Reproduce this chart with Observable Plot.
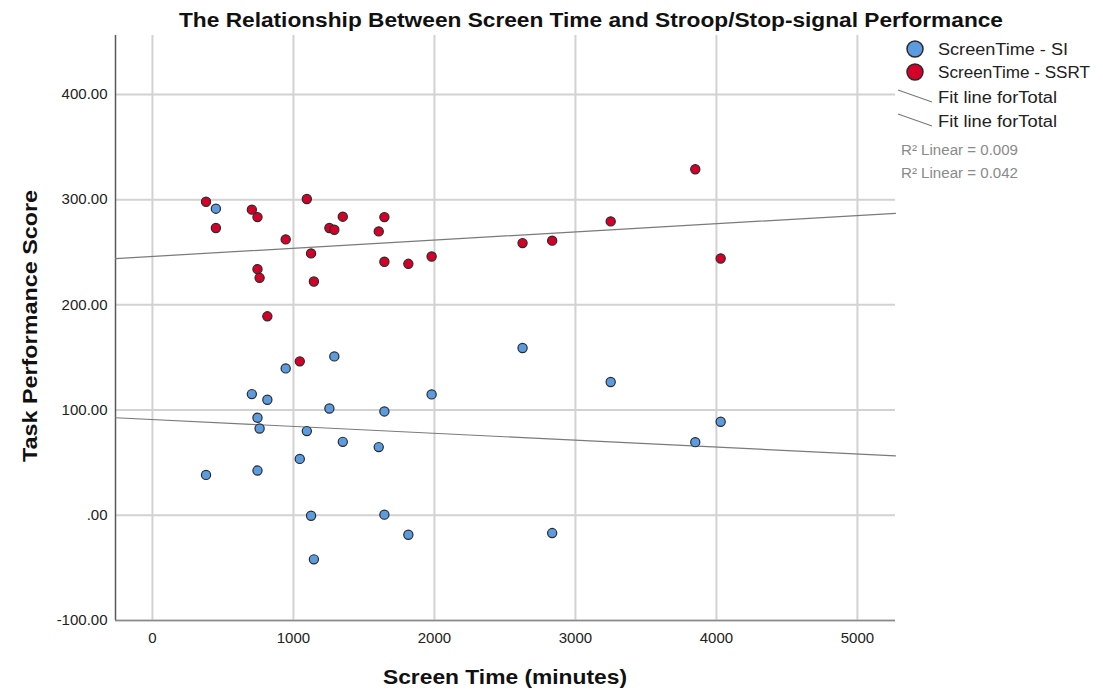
<!DOCTYPE html>
<html>
<head>
<meta charset="utf-8">
<script src="https://cdn.jsdelivr.net/npm/d3@7"></script>
<script src="https://cdn.jsdelivr.net/npm/@observablehq/plot@0.6"></script>
<style>
  body { margin: 0; background: #fff; }
  #wrap { position: relative; width: 1103px; height: 693px; font-family: "Liberation Sans", Arial, sans-serif; }
  #wrap svg { position: absolute; left: 0; top: 0; }
</style>
</head>
<body>
<div id="wrap"></div>
<script>
// ---- data ----
const screenTime = [380, 450, 705, 745, 745, 760, 815, 945, 1045, 1095, 1125, 1145, 1255, 1290, 1350, 1605, 1645, 1645, 1815, 1980, 2625, 2835, 3250, 3850, 4030];
const siScore    = [38.4, 291.4, 115.2, 92.7, 42.5, 82.5, 109.8, 139.6, 53.6, 80.0, -0.4, -41.9, 101.5, 151.0, 69.8, 64.8, 98.7, 0.6, -18.5, 114.9, 159.0, -16.9, 126.7, 69.5, 88.9];
const ssrtScore  = [298.0, 273.0, 290.5, 283.4, 233.9, 225.7, 189.1, 262.2, 146.3, 300.6, 248.9, 222.2, 273.0, 271.4, 283.8, 269.8, 283.4, 241.0, 239.0, 246.0, 258.7, 261.0, 279.3, 328.9, 244.1];
const seriesNames  = ["ScreenTime - SI", "ScreenTime - SSRT"];
const seriesColors = ["#5b9be0", "#d5002a"];
const fitLabels = ["Fit line forTotal", "Fit line forTotal"];
const r2Labels  = ["R\u00B2 Linear = 0.009", "R\u00B2 Linear = 0.042"];
// fit line end values (read at the plot's left and right edges)
const fitX    = [-262, 5270];
const fitSI   = [92.7, 56.5];
const fitSSRT = [244.0, 287.0];
const xTicks = [0, 1000, 2000, 3000, 4000, 5000];
const yTicks = [-100, 0, 100, 200, 300, 400];
const xDomain = [-262, 5270];
const yDomain = [-100, 456];
const titleText = "The Relationship Between Screen Time and Stroop/Stop-signal Performance";
const xLabel = "Screen Time (minutes)";
const yLabel = "Task Performance Score";

// ---- tables ----
const siPts   = screenTime.map((t, i) => ({t, v: siScore[i]}));
const ssrtPts = screenTime.map((t, i) => ({t, v: ssrtScore[i]}));
const fitSILine   = fitX.map((x, i) => ({x, y: fitSI[i]}));
const fitSSRTLine = fitX.map((x, i) => ({x, y: fitSSRT[i]}));

const yFmt = d => d === 0 ? ".00" : d.toFixed(2);

const chart = Plot.plot({
  width: 1103,
  height: 693,
  marginLeft: 115,
  marginRight: 208,
  marginTop: 35,
  marginBottom: 73,
  style: { fontFamily: "Liberation Sans, Arial, sans-serif", fontSize: "15px", color: "#222", background: "transparent" },
  x: { domain: xDomain, ticks: xTicks, tickSize: 0, tickPadding: 12, label: null, tickFormat: d => String(d) },
  y: { domain: yDomain, ticks: yTicks, tickSize: 0, tickPadding: 8, label: null, tickFormat: yFmt },
  marks: [
    Plot.gridX(xTicks, { stroke: "#d2d2d2", strokeOpacity: 1, strokeWidth: 2 }),
    Plot.gridY(yTicks, { stroke: "#d2d2d2", strokeOpacity: 1, strokeWidth: 2 }),
    Plot.ruleX([xDomain[0]], { stroke: "#5a5a5a", strokeWidth: 1.5 }),
    Plot.ruleY([yDomain[0]], { stroke: "#8a8a8a", strokeWidth: 1.5 }),
    Plot.line(fitSSRTLine, { x: "x", y: "y", stroke: "#7a7a7a", strokeWidth: 1.2 }),
    Plot.line(fitSILine, { x: "x", y: "y", stroke: "#7a7a7a", strokeWidth: 1.2 }),
    Plot.dot(ssrtPts, { x: "t", y: "v", r: 4.6, fill: seriesColors[1], stroke: "#2a2a2a", strokeWidth: 1.2 }),
    Plot.dot(siPts, { x: "t", y: "v", r: 4.6, fill: seriesColors[0], stroke: "#2a2a2a", strokeWidth: 1.2 })
  ]
});
const wrap = document.getElementById("wrap");
wrap.appendChild(chart);

// ---- title, axis labels, legend (overlay) ----
const ov = d3.select(wrap).append("svg")
  .attr("width", 1103).attr("height", 693)
  .style("font-family", "Liberation Sans, Arial, sans-serif");

ov.append("text").attr("x", 591).attr("y", 27).attr("text-anchor", "middle")
  .attr("font-size", 20).attr("font-weight", "bold").attr("fill", "#111")
  .attr("textLength", 824).attr("lengthAdjust", "spacingAndGlyphs").text(titleText);
ov.append("text").attr("x", 505).attr("y", 684).attr("text-anchor", "middle")
  .attr("font-size", 21).attr("font-weight", "bold").attr("fill", "#111")
  .attr("textLength", 244).attr("lengthAdjust", "spacingAndGlyphs").text(xLabel);
ov.append("text").attr("transform", "translate(37,326) rotate(-90)").attr("text-anchor", "middle")
  .attr("font-size", 21).attr("font-weight", "bold").attr("fill", "#111")
  .attr("textLength", 272).attr("lengthAdjust", "spacingAndGlyphs").text(yLabel);

const legRows = [49, 72];
const legLens = [130, 152];
seriesNames.forEach((name, i) => {
  ov.append("circle").attr("cx", 915).attr("cy", legRows[i]).attr("r", 8)
    .attr("fill", seriesColors[i]).attr("stroke", "#2a2a2a").attr("stroke-width", 1.5);
  ov.append("text").attr("x", 938).attr("y", legRows[i]).attr("dy", "0.36em")
    .attr("font-size", 16).attr("fill", "#222")
    .attr("textLength", legLens[i]).attr("lengthAdjust", "spacingAndGlyphs").text(name);
});
const fitRows = [97, 121];
fitLabels.forEach((name, i) => {
  ov.append("line").attr("x1", 898).attr("y1", fitRows[i] - 7).attr("x2", 932).attr("y2", fitRows[i] + 5)
    .attr("stroke", "#7a7a7a").attr("stroke-width", 1.2);
  ov.append("text").attr("x", 938).attr("y", fitRows[i]).attr("dy", "0.36em")
    .attr("font-size", 16).attr("fill", "#222")
    .attr("textLength", 119).attr("lengthAdjust", "spacingAndGlyphs").text(name);
});
const r2Rows = [150, 173];
r2Labels.forEach((t, i) => {
  ov.append("text").attr("x", 901).attr("y", r2Rows[i]).attr("dy", "0.36em")
    .attr("font-size", 14).attr("fill", "#8a8a8a")
    .attr("textLength", 117).attr("lengthAdjust", "spacingAndGlyphs").text(t);
});
</script>
</body>
</html>
